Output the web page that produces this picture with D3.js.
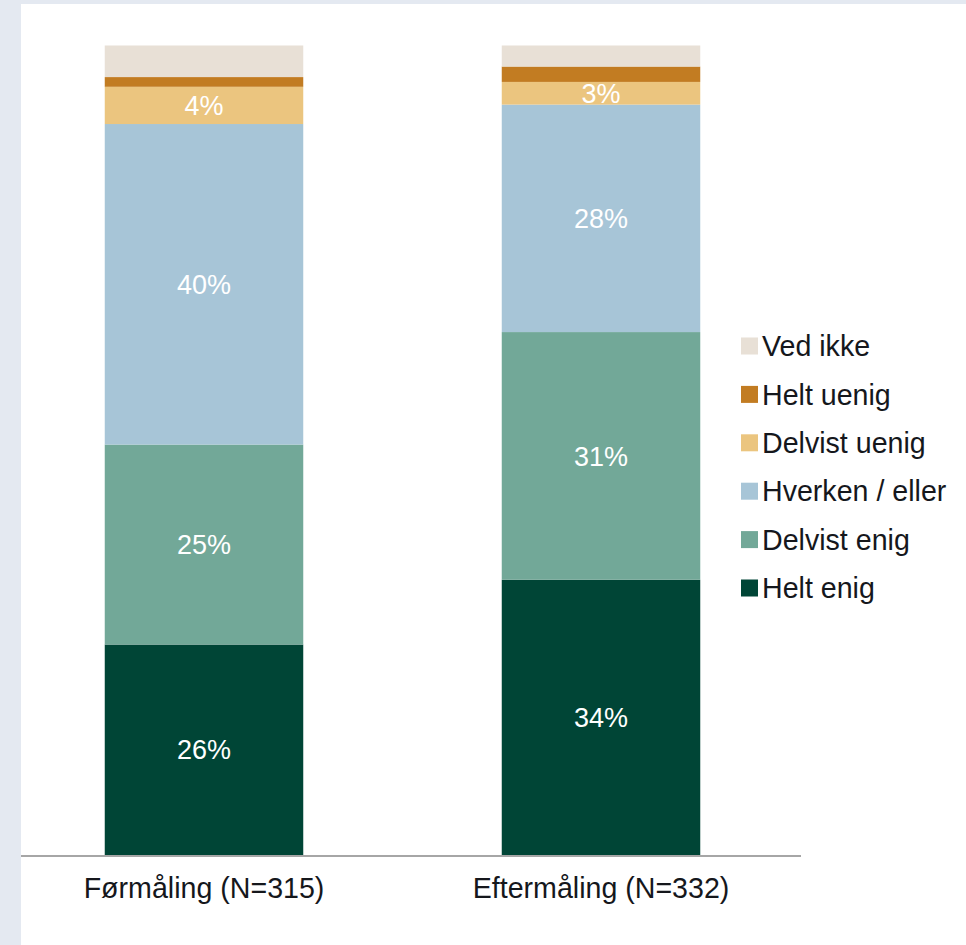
<!DOCTYPE html>
<html>
<head>
<meta charset="utf-8">
<script src="https://cdn.jsdelivr.net/npm/d3@7"></script>
<style>
  html, body { margin: 0; padding: 0; background: #e4e9f1; }
  svg { display: block; }
</style>
</head>
<body>
<svg id="chart" width="966" height="945"></svg>
<script>
// Data
const categories = ["Førmåling (N=315)", "Eftermåling (N=332)"];
const seriesNames = ["Helt enig", "Delvist enig", "Hverken / eller", "Delvist uenig", "Helt uenig", "Ved ikke"];
const heltEnig      = [26.0, 34.0];
const delvistEnig   = [24.7, 30.6];
const hverkenEller  = [39.6, 28.1];
const delvistUenig  = [4.6, 2.8];
const heltUenig     = [1.2, 1.9];
const vedIkke       = [3.9, 2.6];
const segmentLabels = [
  ["26%", "25%", "40%", "4%", "", ""],
  ["34%", "31%", "28%", "3%", "", ""]
];
const colors = ["#004536", "#72a898", "#a7c5d7", "#ebc57f", "#c27c22", "#e8e0d6"];

const seriesValues = [heltEnig, delvistEnig, hverkenEller, delvistUenig, heltUenig, vedIkke];
const rows = categories.map((c, i) => {
  const r = { cat: c, idx: i };
  seriesNames.forEach((s, j) => r[s] = seriesValues[j][i]);
  return r;
});

const svg = d3.select("#chart");
// white panel
svg.append("rect").attr("x", 21).attr("y", 4).attr("width", 945).attr("height", 941).attr("fill", "#ffffff");

const font = "'Liberation Sans', Arial, sans-serif";

const x = d3.scaleBand().domain(categories).range([5.5, 799.5]).paddingInner(0.5).paddingOuter(0.25);
const y = d3.scaleLinear().domain([0, 100]).range([855, 45.5]);
const color = d3.scaleOrdinal().domain(seriesNames).range(colors);

const stack = d3.stack().keys(seriesNames);
const stacked = stack(rows);

const g = svg.append("g");
const layers = g.selectAll("g.layer").data(stacked).join("g")
  .attr("class", "layer").attr("fill", d => color(d.key));

layers.selectAll("rect").data(d => d).join("rect")
  .attr("x", d => x(d.data.cat))
  .attr("width", x.bandwidth())
  .attr("y", d => y(d[1]))
  .attr("height", d => y(d[0]) - y(d[1]));

// labels
stacked.forEach((layer, j) => {
  layer.forEach((d, i) => {
    const t = segmentLabels[i][j];
    if (!t) return;
    g.append("text")
      .attr("x", x(d.data.cat) + x.bandwidth() / 2)
      .attr("y", (y(d[0]) + y(d[1])) / 2)
      .attr("dy", "0.36em")
      .attr("text-anchor", "middle")
      .attr("fill", "#ffffff")
      .style("font-family", font)
      .style("font-size", "27px")
      .text(t);
  });
});

// x axis
const axis = d3.axisBottom(x).tickSize(0).tickPadding(23);
const ax = svg.append("g").attr("transform", "translate(0,855)").call(axis);
ax.select(".domain").remove();
ax.selectAll("text").style("font-family", font).style("font-size", "28.6px").attr("fill", "#15171c");
svg.append("line").attr("x1", 21).attr("x2", 801).attr("y1", 856).attr("y2", 856)
  .attr("stroke", "#a6a6a6").attr("stroke-width", 2);

// legend
const legendNames = seriesNames.slice().reverse();
const ly = d3.scalePoint().domain(legendNames).range([346, 588]);
const leg = svg.append("g");
legendNames.forEach(n => {
  leg.append("rect").attr("x", 741).attr("y", ly(n) - 8.5).attr("width", 17).attr("height", 17).attr("fill", color(n));
  leg.append("text").attr("x", 762).attr("y", ly(n)).attr("dy", "0.36em")
    .attr("fill", "#15171c").style("font-family", font).style("font-size", "28.6px").text(n);
});
</script>
</body>
</html>
